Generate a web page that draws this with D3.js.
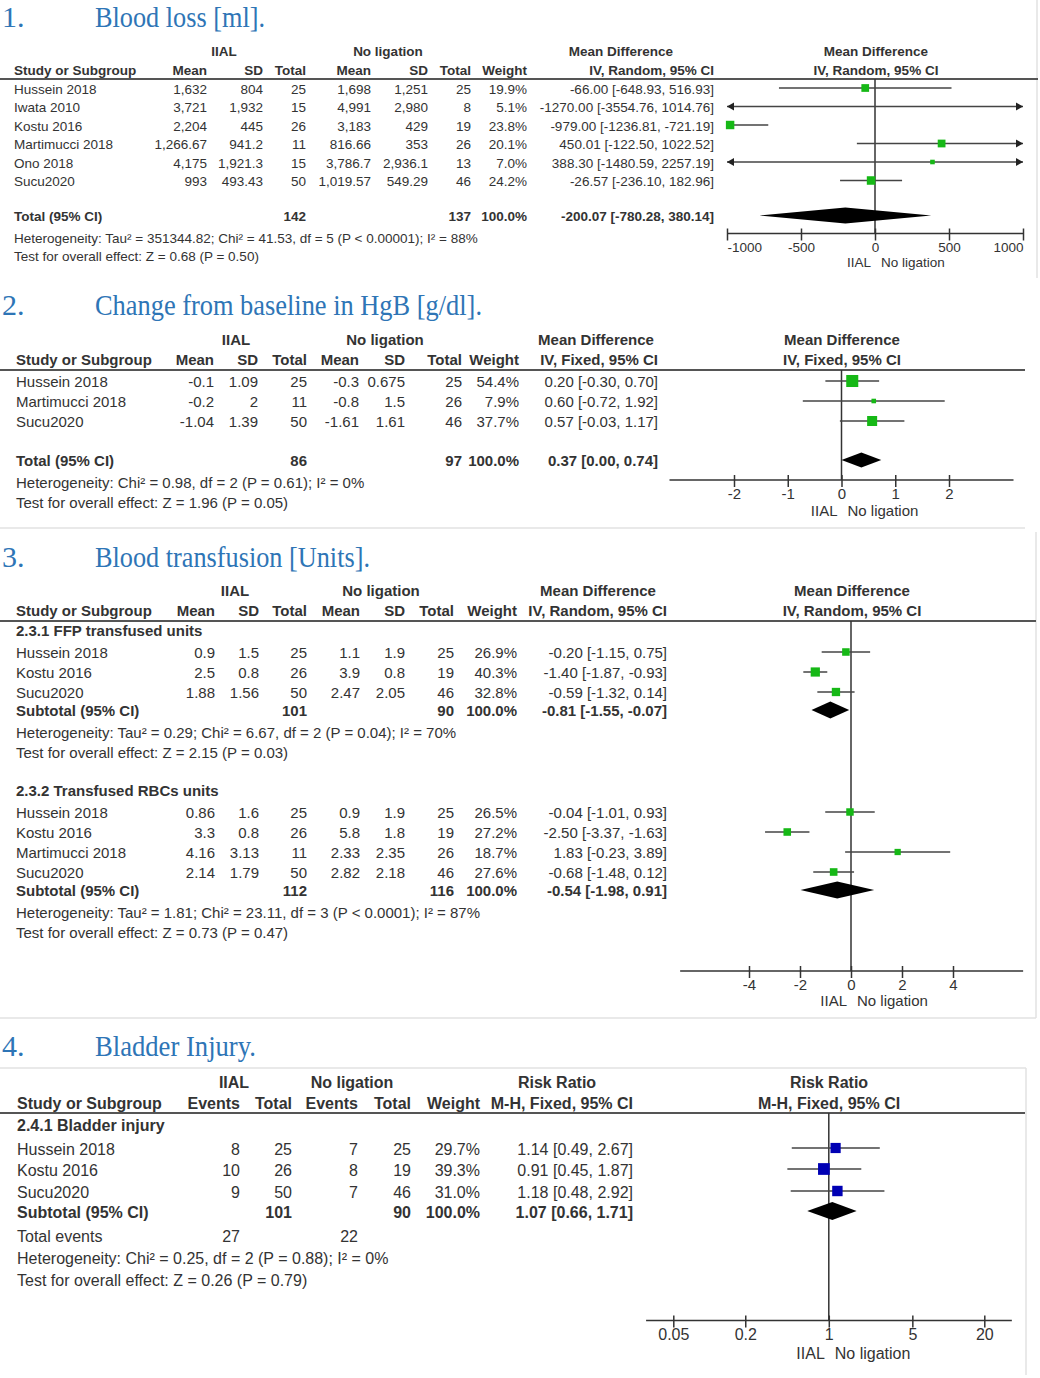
<!DOCTYPE html>
<html>
<head>
<meta charset="utf-8">
<script src="https://cdn.jsdelivr.net/npm/d3@7"></script>
<style>
  body { margin: 0; background: #fff; }
  svg { font-family: 'Liberation Sans', Arial, sans-serif; }
  .ttl { font-family: 'Liberation Serif', 'Times New Roman', serif; fill: #2e75b6; font-size: 30px; }
  .t { fill: #333; }
  .b { font-weight: bold; }
</style>
</head>
<body>
<div id="chart"></div>
<script>
// ---- 1. blood loss
const bloodStudies = ['Hussein 2018', 'Iwata 2010', 'Kostu 2016', 'Martimucci 2018', 'Ono 2018', 'Sucu2020'];
const bloodIIAL = [['1,632', '804', 25], ['3,721', '1,932', 15], ['2,204', '445', 26], ['1,266.67', '941.2', 11], ['4,175', '1,921.3', 15], ['993', '493.43', 50]];
const bloodCtrl = [['1,698', '1,251', 25], ['4,991', '2,980', 8], ['3,183', '429', 19], ['816.66', '353', 26], ['3,786.7', '2,936.1', 13], ['1,019.57', '549.29', 46]];
const bloodWeight = [19.9, 5.1, 23.8, 20.1, 7.0, 24.2];
const bloodMD = [-66.00, -1270.00, -979.00, 450.01, 388.30, -26.57];
const bloodLo = [-648.93, -3554.76, -1236.81, -122.50, -1480.59, -236.10];
const bloodHi = [516.93, 1014.76, -721.19, 1022.52, 2257.19, 182.96];
const bloodTotal = [-200.07, -780.28, 380.14];
const bloodN = [142, 137];
const bloodTicks = [-1000, -500, 0, 500, 1000];
const bloodHet = 'Heterogeneity: Tau\u00b2 = 351344.82; Chi\u00b2 = 41.53, df = 5 (P < 0.00001); I\u00b2 = 88%';
const bloodTest = 'Test for overall effect: Z = 0.68 (P = 0.50)';

// ---- 2. HgB
const hgbStudies = ['Hussein 2018', 'Martimucci 2018', 'Sucu2020'];
const hgbIIAL = [['-0.1', '1.09', 25], ['-0.2', '2', 11], ['-1.04', '1.39', 50]];
const hgbCtrl = [['-0.3', '0.675', 25], ['-0.8', '1.5', 26], ['-1.61', '1.61', 46]];
const hgbWeight = [54.4, 7.9, 37.7];
const hgbMD = [0.20, 0.60, 0.57];
const hgbLo = [-0.30, -0.72, -0.03];
const hgbHi = [0.70, 1.92, 1.17];
const hgbTotal = [0.37, 0.00, 0.74];
const hgbN = [86, 97];
const hgbTicks = [-2, -1, 0, 1, 2];
const hgbHet = 'Heterogeneity: Chi\u00b2 = 0.98, df = 2 (P = 0.61); I\u00b2 = 0%';
const hgbTest = 'Test for overall effect: Z = 1.96 (P = 0.05)';

// ---- 3. transfusion
const ffpStudies = ['Hussein 2018', 'Kostu 2016', 'Sucu2020'];
const ffpIIAL = [['0.9', '1.5', 25], ['2.5', '0.8', 26], ['1.88', '1.56', 50]];
const ffpCtrl = [['1.1', '1.9', 25], ['3.9', '0.8', 19], ['2.47', '2.05', 46]];
const ffpWeight = [26.9, 40.3, 32.8];
const ffpMD = [-0.20, -1.40, -0.59];
const ffpLo = [-1.15, -1.87, -1.32];
const ffpHi = [0.75, -0.93, 0.14];
const ffpSub = [-0.81, -1.55, -0.07];
const ffpN = [101, 90];
const ffpHet = 'Heterogeneity: Tau\u00b2 = 0.29; Chi\u00b2 = 6.67, df = 2 (P = 0.04); I\u00b2 = 70%';
const ffpTest = 'Test for overall effect: Z = 2.15 (P = 0.03)';

const rbcStudies = ['Hussein 2018', 'Kostu 2016', 'Martimucci 2018', 'Sucu2020'];
const rbcIIAL = [['0.86', '1.6', 25], ['3.3', '0.8', 26], ['4.16', '3.13', 11], ['2.14', '1.79', 50]];
const rbcCtrl = [['0.9', '1.9', 25], ['5.8', '1.8', 19], ['2.33', '2.35', 26], ['2.82', '2.18', 46]];
const rbcWeight = [26.5, 27.2, 18.7, 27.6];
const rbcMD = [-0.04, -2.50, 1.83, -0.68];
const rbcLo = [-1.01, -3.37, -0.23, -1.48];
const rbcHi = [0.93, -1.63, 3.89, 0.12];
const rbcSub = [-0.54, -1.98, 0.91];
const rbcN = [112, 116];
const rbcHet = 'Heterogeneity: Tau\u00b2 = 1.81; Chi\u00b2 = 23.11, df = 3 (P < 0.0001); I\u00b2 = 87%';
const rbcTest = 'Test for overall effect: Z = 0.73 (P = 0.47)';
const transTicks = [-4, -2, 0, 2, 4];

// ---- 4. bladder injury
const bladderStudies = ['Hussein 2018', 'Kostu 2016', 'Sucu2020'];
const bladderIIAL = [[8, 25], [10, 26], [9, 50]];
const bladderCtrl = [[7, 25], [8, 19], [7, 46]];
const bladderWeight = [29.7, 39.3, 31.0];
const bladderRR = [1.14, 0.91, 1.18];
const bladderLo = [0.49, 0.45, 0.48];
const bladderHi = [2.67, 1.87, 2.92];
const bladderSub = [1.07, 0.66, 1.71];
const bladderN = [101, 90];
const bladderEvents = [27, 22];
const bladderTicks = [0.05, 0.2, 1, 5, 20];
const bladderHet = 'Heterogeneity: Chi\u00b2 = 0.25, df = 2 (P = 0.88); I\u00b2 = 0%';
const bladderTest = 'Test for overall effect: Z = 0.26 (P = 0.79)';

const loc = d3.formatLocale({decimal: '.', thousands: ',', grouping: [3], currency: ['', ''], minus: '-'});
const f2 = loc.format('.2f');
const f1 = loc.format('.1f');
const ci = (e, l, h) => `${f2(e)} [${f2(l)}, ${f2(h)}]`;

const svg = d3.select('#chart').append('svg')
    .attr('width', 1040)
    .attr('height', 1378);

// faint frame lines between the panels
const frame = [[1037, 0, 1037, 278], [0, 528, 1025, 528], [1036, 532, 1036, 1018], [0, 1018, 1036, 1018],
    [0, 1068, 1026, 1068], [1026, 1068, 1026, 1375]];
svg.append('g').selectAll('line').data(frame).join('line')
    .attr('x1', d => d[0]).attr('y1', d => d[1]).attr('x2', d => d[2]).attr('y2', d => d[3])
    .attr('stroke', '#e2e2e2').attr('stroke-width', 1.5);

function txt(g, x, y, s, anchor, bold) {
    return g.append('text')
        .attr('class', bold ? 't b' : 't')
        .attr('x', x).attr('y', y).attr('dy', '0.35em')
        .attr('text-anchor', anchor)
        .text(s);
}

function studyRows(names, a, b, w, e, l, h, ys, cont) {
    return names.map((n, i) => ({
        kind: 'study', y: ys[i], label: n,
        cells: cont ? [a[i][0], a[i][1], a[i][2], b[i][0], b[i][1], b[i][2], f1(w[i]) + '%', ci(e[i], l[i], h[i])]
                    : [a[i][0], a[i][1], b[i][0], b[i][1], f1(w[i]) + '%', ci(e[i], l[i], h[i])],
        est: e[i], lo: l[i], hi: h[i], w: w[i]
    }));
}

function drawPanel(p) {
    const g = svg.append('g').style('font-size', p.fs + 'px');

    g.append('text').attr('class', 'ttl').attr('x', 2).attr('y', p.titleY).text(p.num);
    g.append('text').attr('class', 'ttl').attr('x', 95).attr('y', p.titleY)
        .attr('textLength', p.titleLen).attr('lengthAdjust', 'spacingAndGlyphs')
        .text(p.title);

    p.groups.forEach(h => txt(g, h[1], p.h1Y, h[0], 'middle', true));
    txt(g, p.studyX, p.h2Y, 'Study or Subgroup', 'start', true);
    p.cols.forEach(c => txt(g, c[1], p.h2Y, c[0], 'end', true));
    txt(g, p.plotCx, p.h1Y, p.effect, 'middle', true);
    txt(g, p.plotCx, p.h2Y, p.method, 'middle', true);

    g.append('line')
        .attr('x1', 0).attr('x2', p.lineEnd)
        .attr('y1', p.lineY).attr('y2', p.lineY)
        .attr('stroke', '#555').attr('stroke-width', 2);

    const x = p.x;
    const ext = p.ext;
    const x0 = x(p.nullV);

    // zero line
    g.append('line')
        .attr('x1', x0).attr('x2', x0)
        .attr('y1', p.lineY).attr('y2', p.axisY)
        .attr('stroke', '#333').attr('stroke-width', 1.5);

    const size = d3.scaleSqrt().domain([0, 100]).range([0, p.sqK * 10]);

    p.rows.forEach(r => {
        if (r.label) txt(g, p.studyX, r.y, r.label, 'start', r.bold);
        if (r.cells) r.cells.forEach((v, i) => {
            if (v !== null && v !== undefined) txt(g, p.cols[i][1], r.y, v, 'end', r.bold);
        });
        const yy = r.y - 1;
        if (r.kind === 'study') {
            const l = Math.max(r.lo, ext[0]), h = Math.min(r.hi, ext[1]);
            g.append('line')
                .attr('x1', x(l)).attr('x2', x(h))
                .attr('y1', yy).attr('y2', yy)
                .attr('stroke', '#444').attr('stroke-width', 1.5);
            if (r.lo < ext[0]) {
                const ax = x(ext[0]);
                g.append('path').attr('d', `M${ax},${yy}L${ax + 7},${yy - 4}L${ax + 7},${yy + 4}Z`).attr('fill', '#222');
            }
            if (r.hi > ext[1]) {
                const ax = x(ext[1]);
                g.append('path').attr('d', `M${ax},${yy}L${ax - 7},${yy - 4}L${ax - 7},${yy + 4}Z`).attr('fill', '#222');
            }
            if (r.est >= ext[0] && r.est <= ext[1]) {
                const s = size(r.w);
                g.append('rect')
                    .attr('x', x(r.est) - s / 2).attr('y', yy - s / 2)
                    .attr('width', s).attr('height', s)
                    .attr('fill', p.sqColor);
            }
        }
        if (r.kind === 'diamond') {
            const hh = p.diaH / 2;
            g.append('path')
                .attr('d', `M${x(r.lo)},${yy}L${x(r.est)},${yy - hh}L${x(r.hi)},${yy}L${x(r.est)},${yy + hh}Z`)
                .attr('fill', '#000');
        }
    });

    // axis
    g.append('line')
        .attr('x1', x(ext[0])).attr('x2', x(ext[1]))
        .attr('y1', p.axisY).attr('y2', p.axisY)
        .attr('stroke', '#333').attr('stroke-width', 1.5);
    const axis = d3.axisBottom(x).tickValues(p.ticks).tickSizeOuter(0)
        .tickFormat(p.tickFmt || (d => loc.format('')(d)));
    const ag = g.append('g').attr('transform', `translate(0,${p.axisY})`).call(axis);
    ag.select('.domain').remove();
    ag.selectAll('.tick line').attr('y1', -5).attr('y2', 7).attr('stroke', '#333').attr('stroke-width', 1.5);
    const n = p.ticks.length;
    ag.selectAll('.tick text')
        .attr('y', p.tickDy).attr('dy', '0.35em')
        .attr('fill', '#333')
        .attr('text-anchor', (d, i) => p.edgeTicks ? (i === 0 ? 'start' : i === n - 1 ? 'end' : 'middle') : 'middle')
        .style('font-size', p.fs + 'px')
        .style('font-family', "'Liberation Sans', Arial, sans-serif");

    txt(g, x0 - 4, p.favY, 'IIAL', 'end', false);
    txt(g, x0 + 6, p.favY, 'No ligation', 'start', false);
}

// ---------- panel 1
drawPanel({
    num: '1.', title: 'Blood loss [ml].', titleY: 27, titleLen: 170, fs: 13.5,
    h1Y: 51, h2Y: 70, lineY: 79, lineEnd: 1038, studyX: 14,
    groups: [['IIAL', 224], ['No ligation', 388], ['Mean Difference', 621]],
    cols: [['Mean', 207], ['SD', 263], ['Total', 306], ['Mean', 371], ['SD', 428], ['Total', 471], ['Weight', 527], ['IV, Random, 95% CI', 714]],
    effect: 'Mean Difference', method: 'IV, Random, 95% CI', plotCx: 876,
    x: d3.scaleLinear().domain([-1000, 1000]).range([727, 1023]),
    ext: [-1000, 1000], nullV: 0, axisY: 233.5, ticks: bloodTicks, tickDy: 13.5, favY: 262, edgeTicks: true,
    sqK: 1.73, sqColor: '#16b816', diaH: 16,
    rows: [
        ...studyRows(bloodStudies, bloodIIAL, bloodCtrl, bloodWeight, bloodMD, bloodLo, bloodHi,
            [89, 107.5, 126, 144.5, 163, 181.5], true),
        {kind: 'diamond', y: 216.5, label: 'Total (95% CI)', bold: true,
         cells: [null, null, bloodN[0], null, null, bloodN[1], '100.0%', ci(...bloodTotal)],
         est: bloodTotal[0], lo: bloodTotal[1], hi: bloodTotal[2]},
        {kind: 'text', y: 238, label: bloodHet},
        {kind: 'text', y: 256, label: bloodTest}
    ]
});

// ---------- panel 2
drawPanel({
    num: '2.', title: 'Change from baseline in HgB [g/dl].', titleY: 315, titleLen: 387, fs: 15,
    h1Y: 340, h2Y: 360, lineY: 370, lineEnd: 1025, studyX: 16,
    groups: [['IIAL', 236], ['No ligation', 385], ['Mean Difference', 596]],
    cols: [['Mean', 214], ['SD', 258], ['Total', 307], ['Mean', 359], ['SD', 405], ['Total', 462], ['Weight', 519], ['IV, Fixed, 95% CI', 658]],
    effect: 'Mean Difference', method: 'IV, Fixed, 95% CI', plotCx: 842,
    x: d3.scaleLinear().domain([-2, 2]).range([734, 949]),
    ext: [-3.2, 3.2], nullV: 0, axisY: 480, ticks: hgbTicks, tickDy: 14, favY: 511,
    sqK: 1.63, sqColor: '#16b816', diaH: 15,
    rows: [
        ...studyRows(hgbStudies, hgbIIAL, hgbCtrl, hgbWeight, hgbMD, hgbLo, hgbHi, [382, 402, 422], true),
        {kind: 'diamond', y: 461, label: 'Total (95% CI)', bold: true,
         cells: [null, null, hgbN[0], null, null, hgbN[1], '100.0%', ci(...hgbTotal)],
         est: hgbTotal[0], lo: hgbTotal[1], hi: hgbTotal[2]},
        {kind: 'text', y: 483, label: hgbHet},
        {kind: 'text', y: 503, label: hgbTest}
    ]
});

// ---------- panel 3
drawPanel({
    num: '3.', title: 'Blood transfusion [Units].', titleY: 567, titleLen: 275, fs: 15,
    h1Y: 591, h2Y: 611, lineY: 621, lineEnd: 1036, studyX: 16,
    groups: [['IIAL', 235], ['No ligation', 381], ['Mean Difference', 598]],
    cols: [['Mean', 215], ['SD', 259], ['Total', 307], ['Mean', 360], ['SD', 405], ['Total', 454], ['Weight', 517], ['IV, Random, 95% CI', 667]],
    effect: 'Mean Difference', method: 'IV, Random, 95% CI', plotCx: 852,
    x: d3.scaleLinear().domain([-4, 4]).range([749, 953]),
    ext: [-6.7, 6.75], nullV: 0, axisY: 971, ticks: transTicks, tickDy: 13.5, favY: 1001,
    sqK: 1.45, sqColor: '#16b816', diaH: 17,
    rows: [
        {kind: 'text', y: 631, label: '2.3.1 FFP transfused units', bold: true},
        ...studyRows(ffpStudies, ffpIIAL, ffpCtrl, ffpWeight, ffpMD, ffpLo, ffpHi, [653, 673, 693], true),
        {kind: 'diamond', y: 711, label: 'Subtotal (95% CI)', bold: true,
         cells: [null, null, ffpN[0], null, null, ffpN[1], '100.0%', ci(...ffpSub)],
         est: ffpSub[0], lo: ffpSub[1], hi: ffpSub[2]},
        {kind: 'text', y: 733, label: ffpHet},
        {kind: 'text', y: 753, label: ffpTest},
        {kind: 'text', y: 791, label: '2.3.2 Transfused RBCs units', bold: true},
        ...studyRows(rbcStudies, rbcIIAL, rbcCtrl, rbcWeight, rbcMD, rbcLo, rbcHi, [813, 833, 853, 873], true),
        {kind: 'diamond', y: 891, label: 'Subtotal (95% CI)', bold: true,
         cells: [null, null, rbcN[0], null, null, rbcN[1], '100.0%', ci(...rbcSub)],
         est: rbcSub[0], lo: rbcSub[1], hi: rbcSub[2]},
        {kind: 'text', y: 913, label: rbcHet},
        {kind: 'text', y: 933, label: rbcTest}
    ]
});

// ---------- panel 4
drawPanel({
    num: '4.', title: 'Bladder Injury.', titleY: 1056, titleLen: 161, fs: 16,
    h1Y: 1082, h2Y: 1103, lineY: 1113, lineEnd: 1025, studyX: 17,
    groups: [['IIAL', 234], ['No ligation', 352], ['Risk Ratio', 557]],
    cols: [['Events', 240], ['Total', 292], ['Events', 358], ['Total', 411], ['Weight', 480], ['M-H, Fixed, 95% CI', 633]],
    effect: 'Risk Ratio', method: 'M-H, Fixed, 95% CI', plotCx: 829,
    x: d3.scaleLog().domain([0.05, 20]).range([673.3, 984.3]),
    ext: [0.0296, 34], nullV: 1, axisY: 1320.5, ticks: bladderTicks, tickDy: 14, favY: 1353,
    tickFmt: d => String(d),
    sqK: 1.87, sqColor: '#0000b4', diaH: 18,
    rows: [
        {kind: 'text', y: 1125, label: '2.4.1 Bladder injury', bold: true},
        ...studyRows(bladderStudies, bladderIIAL, bladderCtrl, bladderWeight, bladderRR, bladderLo, bladderHi, [1149, 1170, 1192], false),
        {kind: 'diamond', y: 1212, label: 'Subtotal (95% CI)', bold: true,
         cells: [null, bladderN[0], null, bladderN[1], '100.0%', ci(...bladderSub)],
         est: bladderSub[0], lo: bladderSub[1], hi: bladderSub[2]},
        {kind: 'text', y: 1236, label: 'Total events', cells: [bladderEvents[0], null, bladderEvents[1], null, null, null]},
        {kind: 'text', y: 1258, label: bladderHet},
        {kind: 'text', y: 1280, label: bladderTest}
    ]
});
</script>
</body>
</html>
